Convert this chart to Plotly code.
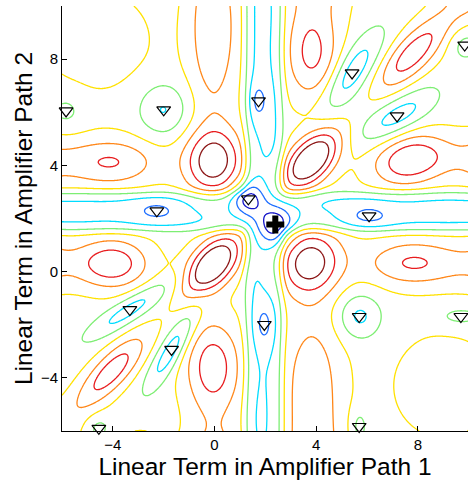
import numpy as np
import plotly.graph_objects as go

# ---- cost surface over the two linear terms --------------------------------
x_lo, x_hi, y_lo, y_hi = -6.0, 10.0, -6.0, 10.0
step = 0.04

base_level = 5.6
valley_x = 1.95        # valley along path-1 coefficient
valley_y = 2.27        # valley along path-2 coefficient
valley_depth = 1.9
valley_width = 0.75

# ridges / peaks of the cost: centre, height, sigma (major, minor), angle
peak_x = [-0.08, 3.80, -0.04, 3.74, -4.00, -8.00, -4.04, -8.00, 7.70, 12.0,
          7.76, 12.0, -4.05, -7.50, -0.06, 0.00, 3.83, 3.90, -0.05, 3.82,
          4.00, 7.80, 10.8, -4.60, 9.00, -3.00]
peak_y = [0.26, 4.20, 4.14, 0.36, 0.30, 0.35, 4.12, 4.10, 4.20, 4.20,
          0.33, 0.30, -3.75, -7.30, -3.59, -8.00, -4.00, -8.00, 9.20, 8.20,
          12.0, 8.20, 11.2, 8.70, -4.30, -7.00]
peak_h = [5.0, 5.0, 4.0, 4.0, 3.1, 3.4, 2.4, 2.6, 3.3, 3.4,
          2.45, 2.6, 3.0, 2.8, 3.0, 3.0, 1.9, 2.0, 2.3, 2.6,
          2.6, 3.0, 2.8, 1.0, 1.05, 1.2]
peak_sa = [1.00, 1.00, 0.90, 0.92, 1.00, 1.50, 1.30, 1.50, 1.06, 1.60,
           1.30, 1.60, 1.30, 1.50, 1.25, 1.40, 1.90, 1.80, 2.40, 1.25,
           1.50, 1.30, 1.40, 1.50, 1.40, 0.80]
peak_sb = [0.55, 0.55, 0.82, 0.86, 0.67, 0.70, 0.65, 0.70, 0.66, 0.70,
           0.62, 0.70, 0.45, 0.60, 0.78, 0.80, 0.85, 0.90, 0.70, 0.75,
           0.90, 0.50, 0.60, 1.35, 1.40, 0.70]
peak_ang = [45, 45, 80, 45, 0, 0, 0, 0, 12, 0,
            0, 0, 45, 45, 90, 90, 90, 90, 90, 90,
            90, 45, 45, 0, 0, 0]

# local minima of the cost: centre, depth, sigma (major, minor), angle
minima_x = [-5.84, -2.00, 1.73, 5.41, 9.84, 7.18, -2.27, 1.33, 2.39,
            6.08, -3.33, -1.69, 1.96, 5.69, 9.69, -4.55, 5.69]
minima_y = [6.05, 6.09, 6.43, 7.48, 8.53, 5.86, 2.29, 2.74, 1.77,
            2.10, -1.43, -2.93, -1.99, -1.69, -1.69, -5.90, -5.83]
dip_d = [0.90, 1.70, 1.10, 2.30, 1.00, 2.10, 0.95, 2.60, 2.90,
         1.05, 2.05, 2.30, 1.15, 1.85, 1.00, 0.95, 1.10]
dip_sa = [0.50, 0.70, 0.50, 1.30, 0.45, 1.20, 0.70, 0.45, 0.50,
          0.65, 1.40, 1.25, 0.55, 0.60, 0.80, 0.35, 0.50]
dip_sb = [0.50, 0.70, 0.25, 0.45, 0.45, 0.45, 0.30, 0.40, 0.48,
          0.30, 0.32, 0.32, 0.25, 0.60, 0.30, 0.35, 0.25]
dip_ang = [0, 0, 90, 55, 0, 30, 0, 135, 135,
           0, 32, 58, 90, 0, 0, 0, 90]
best_index = 8          # global optimum, marked with a plus

contour_levels = [2, 3, 4, 5, 6, 7, 8, 9]
level_colors = ["rgb(20,20,200)", "rgb(30,110,255)", "rgb(0,220,255)",
                "rgb(125,238,115)", "rgb(255,225,0)", "rgb(255,135,25)",
                "rgb(232,28,30)", "rgb(140,22,22)"]


def blob(X, Y, cx, cy, amp, sa, sb, ang):
    t = np.deg2rad(ang)
    dx, dy = X - cx, Y - cy
    u = dx * np.cos(t) + dy * np.sin(t)
    v = -dx * np.sin(t) + dy * np.cos(t)
    return amp * np.exp(-u ** 2 / (2 * sa ** 2) - v ** 2 / (2 * sb ** 2))


xs = np.round(np.arange(x_lo, x_hi + step / 2, step), 3)
ys = np.round(np.arange(y_lo, y_hi + step / 2, step), 3)
X, Y = np.meshgrid(xs, ys)

gx = np.exp(-(np.abs(X - valley_x) / valley_width) ** 4)
gy = np.exp(-(np.abs(Y - valley_y) / valley_width) ** 4)
Z = base_level - valley_depth * (gx + gy - gx * gy)
for p in zip(peak_x, peak_y, peak_h, peak_sa, peak_sb, peak_ang):
    Z += blob(X, Y, *p)
for p in zip(minima_x, minima_y, dip_d, dip_sa, dip_sb, dip_ang):
    Z -= blob(X, Y, *p)
Z = np.round(Z, 3)

lo, hi = contour_levels[0], contour_levels[-1]
colorscale = [[(lv - lo) / (hi - lo), c] for lv, c in zip(contour_levels, level_colors)]

fig = go.Figure()
fig.add_trace(go.Contour(
    x=xs, y=ys, z=Z,
    contours=dict(start=lo, end=hi, size=1, coloring="lines"),
    colorscale=colorscale, zmin=lo, zmax=hi,
    line=dict(width=1.3), showscale=False, hoverinfo="skip",
))

tri_x = [v for i, v in enumerate(minima_x) if i != best_index]
tri_y = [v for i, v in enumerate(minima_y) if i != best_index]
fig.add_trace(go.Scatter(
    x=tri_x, y=tri_y, mode="markers", cliponaxis=False,
    marker=dict(symbol="triangle-down-open", size=12, color="black",
                line=dict(width=1.2, color="black")),
    showlegend=False,
))
fig.add_trace(go.Scatter(
    x=[minima_x[best_index]], y=[minima_y[best_index]], mode="markers",
    marker=dict(symbol="cross", size=15, color="black",
                line=dict(width=0)),
    showlegend=False,
))

axis_font = dict(family="Liberation Sans, Arial, sans-serif", size=15, color="black")
title_font = dict(family="Liberation Sans, Arial, sans-serif", size=24.5, color="black")
fig.update_layout(
    width=468, height=485,
    margin=dict(l=62, r=0, t=6, b=54),
    paper_bgcolor="white", plot_bgcolor="white",
    showlegend=False,
    xaxis=dict(range=[-6, 9.97], tickvals=[-4, 0, 4, 8], ticks="inside",
               ticklen=5, tickcolor="black", showline=True, linecolor="black",
               linewidth=1, mirror=False, showgrid=False, zeroline=False,
               tickfont=axis_font,
               title=dict(text="Linear Term in Amplifier Path 1", font=title_font,
                          standoff=3)),
    yaxis=dict(range=[-6, 10], tickvals=[-4, 0, 4, 8], ticks="inside",
               ticklen=5, tickcolor="black", showline=True, linecolor="black",
               linewidth=1, mirror=False, showgrid=False, zeroline=False,
               tickfont=axis_font,
               title=dict(text="Linear Term in Amplifier Path 2", font=title_font,
                          standoff=1)),
)

fig.write_html("out.html")
